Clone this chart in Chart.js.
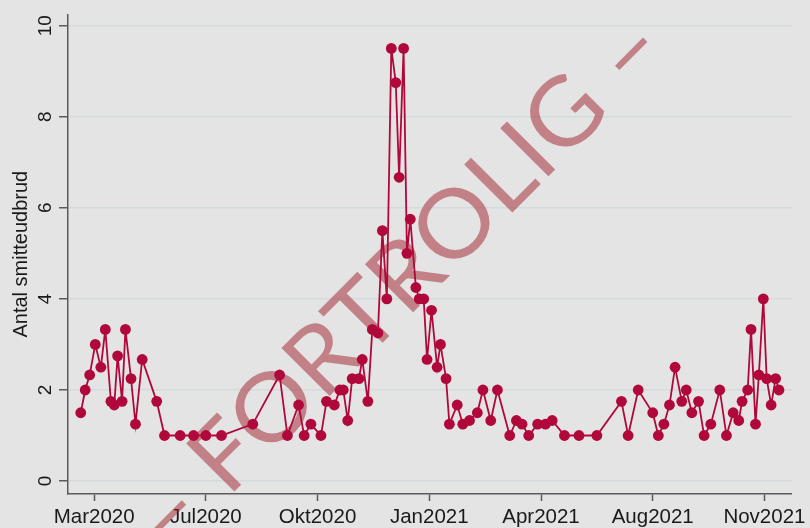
<!DOCTYPE html>
<html>
<head>
<meta charset="utf-8">
<script src="https://cdn.jsdelivr.net/npm/chart.js@4.4.1/dist/chart.umd.min.js"></script>
<style>
  html, body { margin: 0; padding: 0; background: #e4e4e4; }
  #wrap { width: 810px; height: 528px; position: relative; }
</style>
</head>
<body>
<div id="wrap"><canvas id="c" width="810" height="528"></canvas></div>
<script>
// ---- data ----
const outbreakDates = [
  "2020-03-14","2020-03-18","2020-03-22","2020-03-27","2020-04-01","2020-04-05","2020-04-10","2020-04-13",
  "2020-04-16","2020-04-20","2020-04-23","2020-04-28","2020-05-02","2020-05-08","2020-05-21","2020-05-28",
  "2020-06-11","2020-06-23","2020-07-04","2020-07-18","2020-08-15","2020-09-08","2020-09-15","2020-09-25",
  "2020-09-30","2020-10-06","2020-10-15","2020-10-20","2020-10-27","2020-11-01","2020-11-04","2020-11-08",
  "2020-11-12","2020-11-18","2020-11-21","2020-11-26","2020-11-30","2020-12-05","2020-12-09","2020-12-13",
  "2020-12-17","2020-12-21","2020-12-24","2020-12-28","2020-12-31","2021-01-03","2021-01-08","2021-01-11",
  "2021-01-15","2021-01-18","2021-01-22","2021-01-27","2021-01-30","2021-02-04","2021-02-07","2021-02-14",
  "2021-02-19","2021-02-25","2021-03-04","2021-03-09","2021-03-16","2021-03-22","2021-04-02","2021-04-08",
  "2021-04-13","2021-04-19","2021-04-27","2021-05-04","2021-05-10","2021-05-21","2021-06-03","2021-06-19",
  "2021-07-11","2021-07-17","2021-07-26","2021-08-08","2021-08-13","2021-08-18","2021-08-23","2021-08-28",
  "2021-09-03","2021-09-07","2021-09-12","2021-09-18","2021-09-23","2021-09-29","2021-10-07","2021-10-13",
  "2021-10-19","2021-10-24","2021-10-27","2021-11-01","2021-11-04","2021-11-08","2021-11-11","2021-11-15",
  "2021-11-18","2021-11-22","2021-11-26","2021-11-29"
];
const outbreakCounts = [
  1.5, 2.0, 2.33, 3.0, 2.5, 3.33, 1.75, 1.67,
  2.75, 1.75, 3.33, 2.25, 1.25, 2.67, 1.75, 1.0,
  1.0, 1.0, 1.0, 1.0, 1.25, 2.33, 1.0, 1.67,
  1.0, 1.25, 1.0, 1.75, 1.67, 2.0, 2.0, 1.33,
  2.25, 2.25, 2.67, 1.75, 3.33, 3.25, 5.5, 4.0,
  9.5, 8.75, 6.67, 9.5, 5.0, 5.75, 4.25, 4.0,
  4.0, 2.67, 3.75, 2.5, 3.0, 2.25, 1.25, 1.67,
  1.25, 1.33, 1.5, 2.0, 1.33, 2.0, 1.0, 1.33,
  1.25, 1.0, 1.25, 1.25, 1.33, 1.0, 1.0, 1.0,
  1.75, 1.0, 2.0, 1.5, 1.0, 1.25, 1.67, 2.5,
  1.75, 2.0, 1.5, 1.75, 1.0, 1.25, 2.0, 1.0,
  1.5, 1.33, 1.75, 2.0, 3.33, 1.25, 2.33, 4.0,
  2.25, 1.67, 2.25, 2.0
];
const xTickDates  = ["2020-03-26","2020-07-04","2020-10-12","2021-01-20","2021-04-30","2021-08-08","2021-11-16"];
const xTickLabels = ["Mar2020","Jul2020","Okt2020","Jan2021","Apr2021","Aug2021","Nov2021"];
const yTickValues = [0, 2, 4, 6, 8, 10];
const yAxisTitle = "Antal smitteudbrud";
const watermarkText = "– FORTROLIG –";

// ---- helpers ----
const toDay = s => Date.parse(s + "T00:00:00Z") / 864e5;
const xTickDays = xTickDates.map(toDay);
const points = outbreakDates.map((d, i) => ({ x: toDay(d), y: outbreakCounts[i] }));

const LINE = "#b0083a";
const AXIS = "#5a5a5a";
const GRID = "#d3dbde";
const TEXT = "#1a1a1a";
const FONT = "'Liberation Sans', Arial, sans-serif";

const watermarkPlugin = {
  id: "watermark",
  beforeDatasetsDraw(chart) {
    const ctx = chart.ctx;
    ctx.save();
    ctx.font = "400 95px Lato, 'Open Sans', sans-serif";
    const lead = ctx.measureText("– ").width;
    const body = ctx.measureText("FORTROLIG –").width;
    const sx = 628 / body;
    const ang = -45.1 * Math.PI / 180;
    ctx.translate(228, 498);
    ctx.rotate(ang);
    ctx.scale(sx, 1);
    ctx.fillStyle = "rgba(160,30,40,0.5)";
    ctx.textAlign = "left";
    ctx.textBaseline = "alphabetic";
    ctx.fillText(watermarkText, -lead, 0);
    ctx.restore();
  }
};

new Chart(document.getElementById("c"), {
  type: "line",
  data: {
    datasets: [{
      data: points,
      borderColor: LINE,
      backgroundColor: LINE,
      borderWidth: 1.8,
      pointRadius: 5.4,
      pointHoverRadius: 5.4,
      pointBackgroundColor: LINE,
      pointBorderWidth: 0,
      tension: 0,
      fill: false
    }]
  },
  options: {
    responsive: false,
    animation: false,
    devicePixelRatio: 1,
    layout: { padding: { left: 0, top: 12, right: 14, bottom: 0 } },
    plugins: { legend: { display: false }, tooltip: { enabled: false } },
    scales: {
      x: {
        type: "linear",
        min: xTickDays[0] - 23.4,
        max: xTickDays[0] + 624.6,
        afterBuildTicks: s => { s.ticks = xTickDays.map(v => ({ value: v })); },
        afterFit: s => { s.height = 34; },
        grid: { display: true, drawOnChartArea: false, drawTicks: true, tickLength: 7, tickColor: AXIS, tickWidth: 1.5 },
        border: { display: true, color: AXIS, width: 1.5 },
        ticks: {
          autoSkip: false, maxRotation: 0, minRotation: 0, padding: 4,
          color: TEXT, font: { family: FONT, size: 20.5 },
          callback: (v) => { const i = xTickDays.indexOf(v); return i >= 0 ? xTickLabels[i] : ""; }
        }
      },
      y: {
        type: "linear",
        min: -0.284,
        max: 10.247,
        afterBuildTicks: s => { s.ticks = yTickValues.map(v => ({ value: v })); },
        afterFit: s => { s.width = 68; },
        grid: { display: true, color: GRID, lineWidth: 1.5, drawTicks: true, tickLength: 9, tickColor: AXIS, tickWidth: 1.5 },
        border: { display: true, color: AXIS, width: 1.5 },
        ticks: {
          minRotation: 90, maxRotation: 90, crossAlign: "center", padding: 3,
          color: TEXT, font: { family: FONT, size: 19 },
          callback: v => String(v)
        },
        title: {
          display: true, text: yAxisTitle, color: TEXT,
          font: { family: FONT, size: 20 }, padding: { top: 9, bottom: 0 }
        }
      }
    }
  },
  plugins: [watermarkPlugin]
});
</script>
</body>
</html>
